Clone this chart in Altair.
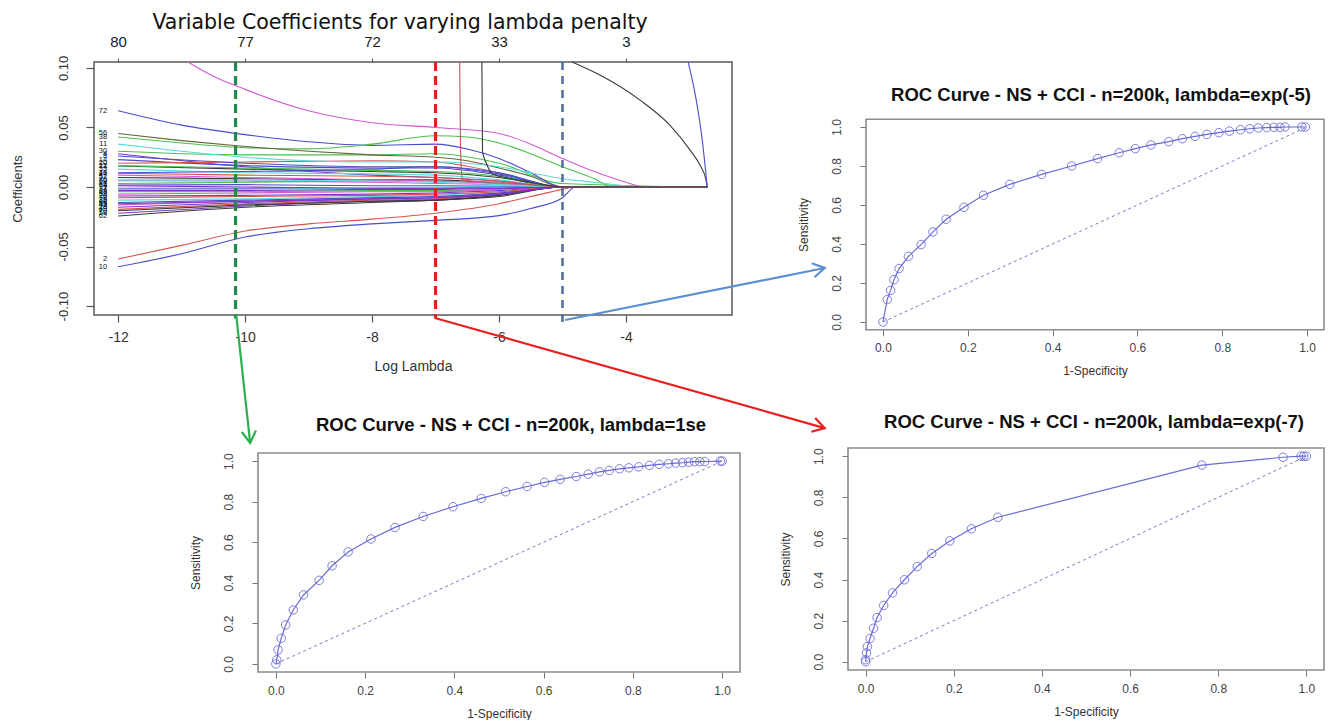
import altair as alt
import pandas as pd

# ---------------------------------------------------------------- data
lam_domain = [-12.38, -2.33]
coef_domain = [-0.1075, 0.105]
lam_ticks = [-12, -10, -8, -6, -4]
nonzero_counts = [80, 77, 72, 33, 3]
coef_ticks = [-0.10, -0.05, 0.00, 0.05, 0.10]

band_knots = [-12, -10, -8, -7, -6, -5, -2.72]
band_ids = [4, 14, 21, 33, 41, 52, 60, 64, 7, 18, 26, 35, 43, 49, 58, 62,
            20, 30, 16, 24, 37, 47, 53, 66, 70, 74, 76, 78, 12, 28, 8, 39, 55]
band_cols = ["purple", "blue", "black", "cyan", "red", "black", "magenta", "blue",
             "purple", "green", "purple", "cyan", "magenta", "red", "purple", "black",
             "red", "green", "blue", "green", "cyan", "magenta", "magenta", "blue",
             "black", "purple", "cyan", "red", "green", "purple", "blue", "purple", "purple"]
band_vals = [
    [0.028, 0.017, 0.010, 0.008, 0.005, 0, 0],
    [0.023, 0.018, 0.016, 0.016, 0.010, 0, 0],
    [0.0176, 0.015, 0.013, 0.012, 0.008, 0, 0],
    [0.015, 0.012, 0.011, 0.010, 0.006, 0, 0],
    [0.0115, 0.010, 0.009, 0.008, 0.005, 0, 0],
    [0.008, 0.007, 0.006, 0.006, 0.003, 0, 0],
    [0.0053, 0.005, 0.004, 0.003, 0.002, 0, 0],
    [0.0017, 0.002, 0.001, 0.001, 0.0005, 0, 0],
    [-0.0011, -0.001, -0.001, -0.001, 0, 0, 0],
    [-0.004, -0.004, -0.003, -0.003, -0.002, 0, 0],
    [-0.0076, -0.007, -0.006, -0.005, -0.003, 0, 0],
    [-0.011, -0.010, -0.008, -0.007, -0.004, 0, 0],
    [-0.015, -0.012, -0.009, -0.008, -0.005, 0, 0],
    [-0.0188, -0.014, -0.011, -0.010, -0.006, 0, 0],
    [-0.022, -0.016, -0.012, -0.011, -0.007, 0, 0],
    [-0.0244, -0.017, -0.013, -0.011, -0.008, 0, 0],
    [0.020, 0.021, 0.022, 0.021, 0.012, 0, 0],
    [0.030, 0.027, 0.027, 0.028, 0.020, 0.003, 0],
    [0.012, 0.013, 0.015, 0.017, 0.012, 0, 0],
    [0.003, 0.004, 0.005, 0.005, 0.003, 0, 0],
    [-0.002, -0.002, -0.001, 0, 0, 0, 0],
    [0.010, 0.008, 0.006, 0.005, 0.003, 0, 0],
    [-0.006, -0.005, -0.004, -0.004, -0.002, 0, 0],
    [-0.013, -0.011, -0.009, -0.008, -0.005, 0, 0],
    [-0.020, -0.015, -0.012, -0.011, -0.007, 0, 0],
    [0.001, 0.0, -0.001, -0.001, -0.001, 0, 0],
    [0.006, 0.006, 0.005, 0.004, 0.002, 0, 0],
    [-0.009, -0.008, -0.007, -0.006, -0.004, 0, 0],
    [0.018, 0.016, 0.014, 0.013, 0.009, 0, 0],
    [-0.017, -0.013, -0.010, -0.009, -0.006, 0, 0],
    [0.026, 0.020, 0.017, 0.017, 0.011, 0, 0],
    [-0.003, -0.003, -0.002, -0.002, -0.001, 0, 0],
    [-0.014, -0.012, -0.010, -0.009, -0.006, 0, 0],
]

path_ids = [72, 45, 38, 56, 11, 2, 10, 67, 5, 1, 3]
path_cols = ["blue", "magenta", "green", "olive", "cyan", "red", "blue", "brown", "black", "black", "blue"]
path_lams = [
    [-12, -11, -10, -9, -8, -7, -6.5, -6, -5.5, -5, -2.72],
    [-10.9, -10.5, -10, -9, -8, -7, -6, -5.5, -5, -4.5, -4, -3.7, -2.72],
    [-12, -11, -10, -9, -8, -7, -6.5, -6, -5.5, -5, -4.5, -4.2, -2.72],
    [-12, -11, -10, -9, -8, -7, -6.5, -6, -5.5, -5, -2.72],
    [-12, -11, -10, -9, -8, -7, -6.5, -6, -5.5, -5, -4.5, -4, -3.8, -2.72],
    [-12, -11, -10, -9, -8, -7, -6, -5.5, -5, -4.8, -2.72],
    [-12, -11, -10, -9, -8, -7, -6, -5.5, -5, -4.8, -2.72],
    [-6.62, -6.6, -6.57, -6.4, -6.0, -5.5, -5.0, -2.72],
    [-6.27, -6.26, -6.2, -6.1, -5.9, -5.5, -5.0, -2.72],
    [-4.85, -4.41, -3.78, -3.31, -2.99, -2.83, -2.74, -2.72],
    [-3.02, -2.9, -2.8, -2.72],
]
path_coefs = [
    [0.064, 0.052, 0.044, 0.038, 0.035, 0.036, 0.032, 0.024, 0.012, 0, 0],
    [0.105, 0.093, 0.082, 0.064, 0.054, 0.050, 0.045, 0.036, 0.024, 0.013, 0.004, 0, 0],
    [0.042, 0.037, 0.033, 0.032, 0.036, 0.043, 0.042, 0.037, 0.028, 0.017, 0.007, 0, 0],
    [0.045, 0.039, 0.034, 0.030, 0.027, 0.025, 0.022, 0.016, 0.009, 0, 0],
    [0.036, 0.030, 0.025, 0.022, 0.021, 0.021, 0.020, 0.017, 0.012, 0.007, 0.004, 0.001, 0, 0],
    [-0.0605, -0.049, -0.037, -0.031, -0.027, -0.022, -0.014, -0.008, -0.002, 0, 0],
    [-0.067, -0.056, -0.042, -0.035, -0.031, -0.028, -0.024, -0.018, -0.009, 0, 0],
    [0.105, 0.02, 0.006, 0.005, 0.004, 0.002, 0, 0],
    [0.105, 0.03, 0.02, 0.011, 0.008, 0.004, 0, 0],
    [0.105, 0.094, 0.073, 0.052, 0.031, 0.018, 0.006, 0],
    [0.105, 0.075, 0.04, 0.0],
]

col_names = ["black", "red", "green", "blue", "cyan", "magenta", "purple", "olive", "brown"]
col_values = ["#3a3a3a", "#d4554f", "#4cc04c", "#4b4bcc", "#56dcdc", "#d25ad2", "#7a35c6", "#66663a", "#b85a5a"]

cut_lams = [-10.15, -7.0, -5.0]
cut_bottoms = [-0.1105, -0.1105, -0.118]

arrow_from_lam = [-10.14, -7.01, -4.96]
arrow_from_coef = [-0.1075, -0.110, -0.1117]
arrow_to_lam = [-9.92, -0.87, -0.87]
arrow_to_coef = [-0.215, -0.2025, -0.068]

roc_domain = [-0.04, 1.04]
roc_ticks = [0.0, 0.2, 0.4, 0.6, 0.8, 1.0]

roc5_fpr = [0, 0.010, 0.018, 0.026, 0.038, 0.060, 0.090, 0.118, 0.149, 0.191,
            0.237, 0.299, 0.374, 0.445, 0.506, 0.557, 0.595, 0.632, 0.674, 0.706,
            0.736, 0.764, 0.792, 0.817, 0.843, 0.865, 0.885, 0.905, 0.922, 0.936,
            0.948, 0.988, 0.996]
roc5_tpr = [0, 0.115, 0.162, 0.217, 0.274, 0.337, 0.397, 0.462, 0.527, 0.588,
            0.650, 0.706, 0.757, 0.800, 0.838, 0.868, 0.889, 0.908, 0.925, 0.940,
            0.952, 0.962, 0.971, 0.979, 0.986, 0.991, 0.995, 0.997, 0.998, 0.998,
            1.0, 1.0, 1.0]

roc1se_fpr = [0, 0.002, 0.005, 0.012, 0.022, 0.039, 0.062, 0.097, 0.126, 0.162,
              0.213, 0.267, 0.330, 0.397, 0.460, 0.515, 0.563, 0.602, 0.637, 0.673,
              0.700, 0.725, 0.747, 0.770, 0.791, 0.813, 0.837, 0.859, 0.880, 0.896,
              0.911, 0.925, 0.938, 0.950, 0.961, 0.996, 1.0]
roc1se_tpr = [0, 0.020, 0.069, 0.126, 0.192, 0.266, 0.340, 0.412, 0.484, 0.552,
              0.616, 0.673, 0.727, 0.775, 0.816, 0.849, 0.875, 0.895, 0.910, 0.924,
              0.936, 0.947, 0.954, 0.962, 0.967, 0.972, 0.979, 0.984, 0.987, 0.990,
              0.992, 0.995, 0.997, 0.997, 0.998, 1.0, 1.0]

roc7_fpr = [0, 0, 0.002, 0.004, 0.010, 0.018, 0.026, 0.041, 0.061, 0.088,
            0.117, 0.150, 0.191, 0.240, 0.300, 0.763, 0.947, 0.988, 0.994, 1.0]
roc7_tpr = [0, 0.010, 0.043, 0.074, 0.113, 0.163, 0.215, 0.274, 0.335, 0.399,
            0.463, 0.527, 0.588, 0.647, 0.703, 0.957, 0.995, 1.0, 1.0, 1.0]

coef_title = "Variable Coefficients for varying lambda penalty"
roc5_title = "ROC Curve - NS + CCI - n=200k, lambda=exp(-5)"
roc1se_title = "ROC Curve - NS + CCI - n=200k, lambda=1se"
roc7_title = "ROC Curve - NS + CCI - n=200k, lambda=exp(-7)"

# ---------------------------------------------------------------- layout (chart pixels)
W, H = 1317, 712
COEF_XR = [86, 724]
COEF_YR = [307, 54]
ROC5_XR, ROC5_YR = [858, 1316], [321.8, 111.2]
ROC1SE_XR, ROC1SE_YR = [250, 732], [664, 445]
ROC7_XR, ROC7_YR = [840, 1316], [662, 440]

SANS = "Liberation Sans"
MINUS_FIX = "replace(datum.label, '\u2212', '-')"


def scale(dom, rng):
    return alt.Scale(domain=dom, range=rng, nice=False, zero=False)


cxs = scale(lam_domain, COEF_XR)
cys = scale(coef_domain, COEF_YR)

layers = []

# ---------------- coefficient paths
rows = []
for sid, col, vals in zip(band_ids, band_cols, band_vals):
    for k, (l, v) in enumerate(zip(band_knots, vals)):
        rows.append({"id": sid, "col": col, "lam": l, "coef": v, "ord": k})
for sid, col, lams, coefs in zip(path_ids, path_cols, path_lams, path_coefs):
    for k, (l, v) in enumerate(zip(lams, coefs)):
        rows.append({"id": sid, "col": col, "lam": l, "coef": v, "ord": k})
coef_df = pd.DataFrame(rows)

coef_bottom_axis = alt.Axis(
    orient="bottom", offset=COEF_YR[0] - H, values=lam_ticks, grid=False, domain=False,
    tickSize=7, tickColor="#555", tickWidth=1.2, labelFont=SANS, labelFontSize=14,
    labelColor="#333", labelPadding=8, labelFlush=False, labelOverlap=False,
    labelExpr=MINUS_FIX, titleFont=SANS, titleFontSize=14, titleFontWeight="normal",
    titleColor="#333", titlePadding=15)
coef_left_axis = alt.Axis(
    orient="left", offset=-COEF_XR[0], values=coef_ticks, format=".2f", grid=False,
    domain=False, tickSize=8, tickColor="#555", tickWidth=1.2, labelFont=SANS,
    labelFontSize=13, labelColor="#333", labelAngle=270, labelAlign="center",
    labelBaseline="bottom", labelPadding=16, labelFlush=False, labelOverlap=False,
    labelExpr=MINUS_FIX, titleFont=SANS, titleFontSize=13, titleFontWeight="normal",
    titleColor="#333", titlePadding=33)

count_expr = " : ".join(
    f"datum.value == {t} ? '{c}'" for t, c in zip(lam_ticks, nonzero_counts)) + " : ''"
coef_top_axis = alt.Axis(
    orient="top", offset=-COEF_YR[1], values=lam_ticks, grid=False, domain=False,
    tickSize=4, tickColor="#555", labelFont=SANS, labelFontSize=15, labelColor="#222",
    labelPadding=9, labelFlush=False, labelOverlap=False, labelExpr=count_expr)

# box
box_coef = alt.Chart(pd.DataFrame({
    "x0": [lam_domain[0]], "x1": [lam_domain[1]],
    "y0": [coef_domain[0]], "y1": [coef_domain[1]]})).mark_rect(
    fillOpacity=0, stroke="#5a5a5a", strokeWidth=1.5).encode(
    x=alt.X("x0:Q", scale=cxs, axis=None), x2="x1:Q",
    y=alt.Y("y0:Q", scale=cys, axis=None), y2="y1:Q")
layers.append(box_coef)

coef_lines = alt.Chart(coef_df).mark_line(strokeWidth=1.1, interpolate="monotone").encode(
    x=alt.X("lam:Q", scale=cxs, axis=coef_bottom_axis, title="Log Lambda"),
    y=alt.Y("coef:Q", scale=cys, axis=coef_left_axis, title="Coefficients"),
    color=alt.Color("col:N", scale=alt.Scale(domain=col_names, range=col_values), legend=None),
    detail="id:N",
    order="ord:Q")
layers.append(coef_lines)

# variable labels at the left end of each path
lab_df = coef_df[(coef_df["ord"] == 0) & (coef_df["lam"] == -12)]
coef_labels = alt.Chart(lab_df).mark_text(
    align="right", baseline="middle", dx=-11, fontSize=7.5, font=SANS, color="#111").encode(
    x=alt.X("lam:Q", scale=cxs, axis=None),
    y=alt.Y("coef:Q", scale=cys, axis=None),
    text="id:N")
layers.append(coef_labels)

# dashed lambda cut lines
cut_styles = [("#1f8a4c", 3.2, [9, 5]), ("#e0221d", 3.2, [9, 5]), ("#52739c", 2.6, [8, 6])]
for i, (lam, bot) in enumerate(zip(cut_lams, cut_bottoms)):
    color, width, dash = cut_styles[i]
    xenc = alt.X("lam:Q", scale=cxs, axis=coef_top_axis if i == 0 else None, title=None)
    rule = alt.Chart(pd.DataFrame({"lam": [lam], "top": [coef_domain[1]], "bot": [bot]})).mark_rule(
        color=color, strokeWidth=width, strokeDash=dash).encode(
        x=xenc, y=alt.Y("top:Q", scale=cys, axis=None), y2="bot:Q")
    layers.append(rule)

# arrows to the ROC panels
arrow_styles = [("#2bb04c", 83.8), ("#e8201e", 15.7), ("#5b8fd4", 348.7)]
for i in range(3):
    color, ang = arrow_styles[i]
    adf = pd.DataFrame({"x0": [arrow_from_lam[i]], "y0": [arrow_from_coef[i]],
                        "x1": [arrow_to_lam[i]], "y1": [arrow_to_coef[i]]})
    shaft = alt.Chart(adf).mark_rule(color=color, strokeWidth=2.2).encode(
        x=alt.X("x0:Q", scale=cxs, axis=None), x2="x1:Q",
        y=alt.Y("y0:Q", scale=cys, axis=None), y2="y1:Q")
    head = alt.Chart(adf).mark_point(
        shape="M-1,-0.6L0,0L-1,0.6", size=560, filled=False, strokeWidth=2.2,
        color=color, opacity=1, angle=ang).encode(
        x=alt.X("x1:Q", scale=cxs, axis=None),
        y=alt.Y("y1:Q", scale=cys, axis=None))
    layers += [shaft, head]

# title of the coefficient panel
coef_title_df = pd.DataFrame({"x": [(lam_domain[0] + lam_domain[1]) / 2],
                              "y": [coef_domain[1]], "t": [coef_title]})
layers.append(alt.Chart(coef_title_df).mark_text(
    font="DejaVu Sans", fontSize=20.5, color="#111", baseline="alphabetic", align="center",
    dx=-13, dy=-33).encode(
    x=alt.X("x:Q", scale=cxs, axis=None),
    y=alt.Y("y:Q", scale=cys, axis=None),
    text="t:N"))


# ---------------- ROC panels
def roc_panel(fpr, tpr, xr, yr, title, title_dx, title_dy):
    xsc = scale(roc_domain, xr)
    ysc = scale(roc_domain, yr)
    df = pd.DataFrame({"fpr": fpr, "tpr": tpr, "ord": list(range(len(fpr)))})
    xaxis = alt.Axis(
        orient="bottom", offset=yr[0] - H, values=roc_ticks, format=".1f", grid=False,
        domain=False, tickSize=6, tickColor="#777", labelFont=SANS, labelFontSize=12,
        labelColor="#444", labelPadding=7, labelFlush=False, labelOverlap=False,
        titleFont=SANS, titleFontSize=12, titleFontWeight="normal", titleColor="#333",
        titlePadding=12)
    yaxis = alt.Axis(
        orient="left", offset=-xr[0], values=roc_ticks, format=".1f", grid=False,
        domain=False, tickSize=6, tickColor="#777", labelFont=SANS, labelFontSize=12,
        labelColor="#444", labelAngle=270, labelAlign="center", labelBaseline="bottom",
        labelPadding=17, labelFlush=False, labelOverlap=False, titleFont=SANS,
        titleFontSize=12, titleFontWeight="normal", titleColor="#333", titlePadding=20)
    box = alt.Chart(pd.DataFrame({"x0": [roc_domain[0]], "x1": [roc_domain[1]],
                                  "y0": [roc_domain[0]], "y1": [roc_domain[1]]})).mark_rect(
        fillOpacity=0, stroke="#8c8c8c", strokeWidth=1.6).encode(
        x=alt.X("x0:Q", scale=xsc, axis=None), x2="x1:Q",
        y=alt.Y("y0:Q", scale=ysc, axis=None), y2="y1:Q")
    diag = alt.Chart(pd.DataFrame({"fpr": [0.0, 1.0], "tpr": [0.0, 1.0]})).mark_line(
        color="#7a7ad0", strokeWidth=1, strokeDash=[3, 3]).encode(
        x=alt.X("fpr:Q", scale=xsc, axis=None),
        y=alt.Y("tpr:Q", scale=ysc, axis=None))
    line = alt.Chart(df).mark_line(color="#6b6bd4", strokeWidth=1.2).encode(
        x=alt.X("fpr:Q", scale=xsc, axis=xaxis, title="1-Specificity"),
        y=alt.Y("tpr:Q", scale=ysc, axis=yaxis, title="Sensitivity"),
        order="ord:Q")
    pts = alt.Chart(df).mark_point(shape="circle", filled=False, size=72, strokeWidth=1,
                                   color="#5f5fd6", opacity=0.8).encode(
        x=alt.X("fpr:Q", scale=xsc, axis=None),
        y=alt.Y("tpr:Q", scale=ysc, axis=None))
    ttl = alt.Chart(pd.DataFrame({"x": [0.5], "y": [roc_domain[1]], "t": [title]})).mark_text(
        font=SANS, fontSize=18.5, fontWeight="bold", color="#111", baseline="middle",
        align="center", dx=title_dx, dy=title_dy).encode(
        x=alt.X("x:Q", scale=xsc, axis=None),
        y=alt.Y("y:Q", scale=ysc, axis=None),
        text="t:N")
    return [box, diag, line, pts, ttl]


layers += roc_panel(roc5_fpr, roc5_tpr, ROC5_XR, ROC5_YR, roc5_title, 6, -24)
layers += roc_panel(roc1se_fpr, roc1se_tpr, ROC1SE_XR, ROC1SE_YR, roc1se_title, 12, -28)
layers += roc_panel(roc7_fpr, roc7_tpr, ROC7_XR, ROC7_YR, roc7_title, 8, -26)

chart = alt.layer(*layers).resolve_scale(
    x="independent", y="independent", color="independent"
).properties(
    width=W, height=H, padding=0,
    autosize=alt.AutoSizeParams(type="none"),
    background="white",
).configure_view(stroke="transparent")

chart.save("out.html", embed_options={"renderer": "svg", "actions": False})
